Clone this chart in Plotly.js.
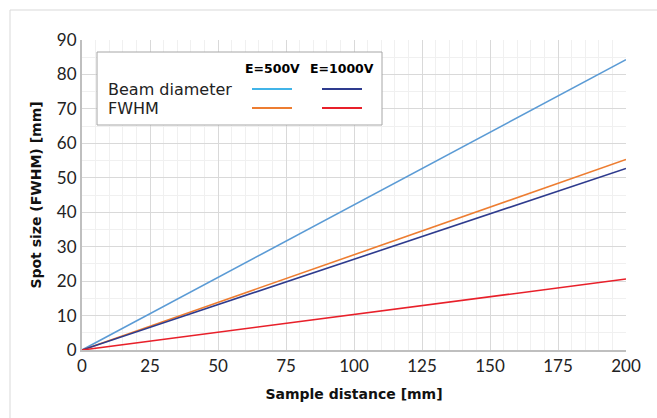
<!DOCTYPE html>
<html>
<head>
<meta charset="utf-8">
<script src="https://cdn.plot.ly/plotly-3.0.1.min.js"></script>
<style>html,body{margin:0;padding:0;background:#fff;}#chart{width:657px;height:418px;}</style>
</head>
<body>
<div id="chart"></div>
<script>
const distance = [0, 200];
const beam500 = [0, 84.3];
const fwhm500 = [0, 55.3];
const beam1000 = [0, 52.7];
const fwhm1000 = [0, 20.6];
const xTicks = [0, 25, 50, 75, 100, 125, 150, 175, 200];
const yTicks = [0, 10, 20, 30, 40, 50, 60, 70, 80, 90];
const colHeaders = ['E=500V', 'E=1000V'];
const rowLabels = ['Beam diameter', 'FWHM'];

const colors = {beam500: '#5B9BD5', fwhm500: '#ED7D31', beam1000: '#2E3B8E', fwhm1000: '#E8202A'};
const legendColors = [['#41B4E8', '#2E3B8E'], ['#ED7D31', '#E8202A']];
const FONT = 'Lato, "Open Sans", sans-serif';
const BOLD = '"DejaVu Sans", Lato, sans-serif';

const traces = [
  {x: distance, y: beam500, name: 'Beam diameter E=500V', color: colors.beam500},
  {x: distance, y: fwhm500, name: 'FWHM E=500V', color: colors.fwhm500},
  {x: distance, y: beam1000, name: 'Beam diameter E=1000V', color: colors.beam1000},
  {x: distance, y: fwhm1000, name: 'FWHM E=1000V', color: colors.fwhm1000}
].map(t => ({x: t.x, y: t.y, name: t.name, type: 'scatter', mode: 'lines',
  line: {color: t.color, width: 1.6}, hoverinfo: 'x+y+name'}));

// legend table (drawn in paper coords)
const px = v => (v - 82) / 544;   // pixel -> paper x
const py = v => (350 - v) / 310;  // pixel -> paper y
const shapes = [
  {type: 'rect', xref: 'paper', yref: 'paper', x0: px(10), x1: px(700), y0: py(500), y1: py(10),
   line: {color: '#d9d9d9', width: 1}, fillcolor: 'rgba(0,0,0,0)', layer: 'below'},
  {type: 'rect', xref: 'paper', yref: 'paper', x0: px(97), x1: px(382), y0: py(125), y1: py(52),
   line: {color: '#a6a6a6', width: 1}, fillcolor: '#ffffff'}
];
const annotations = [];
const colX = [272, 342];
const rowY = [89, 108];
colHeaders.forEach((h, i) => annotations.push({xref: 'paper', yref: 'paper', x: px(colX[i]), y: py(68),
  text: '<b>' + h + '</b>', showarrow: false, xanchor: 'center', yanchor: 'middle',
  font: {family: BOLD, size: 12.5, color: '#000'}}));
rowLabels.forEach((r, j) => {
  annotations.push({xref: 'paper', yref: 'paper', x: px(106), y: py(rowY[j]), text: r, showarrow: false,
    xanchor: 'left', yanchor: 'middle', font: {family: '"DejaVu Sans", sans-serif', size: 16, color: '#222'}});
  colX.forEach((cx, i) => shapes.push({type: 'line', xref: 'paper', yref: 'paper',
    x0: px(cx - 20), x1: px(cx + 20), y0: py(rowY[j]), y1: py(rowY[j]),
    line: {color: legendColors[j][i], width: 1.8}}));
});

const layout = {
  width: 657, height: 418,
  margin: {l: 82, r: 31, t: 40, b: 68},
  paper_bgcolor: '#ffffff', plot_bgcolor: '#ffffff',
  showlegend: false,
  font: {family: FONT, color: '#222'},
  xaxis: {
    range: [0, 200], tickvals: xTicks, ticktext: xTicks.map(String),
    showline: true, linecolor: '#bfbfbf', linewidth: 2,
    showgrid: true, gridcolor: '#d9d9d9', gridwidth: 1,
    minor: {dtick: 5, showgrid: true, gridcolor: '#f0f0f0', gridwidth: 1},
    zeroline: false, ticks: '', ticklen: 0,
    tickfont: {family: FONT, size: 17, color: '#222'},
    title: {text: '<b>Sample distance [mm]</b>', font: {family: BOLD, size: 14, color: '#111'}, standoff: 14}
  },
  yaxis: {
    range: [0, 90], tickvals: yTicks, ticktext: yTicks.map(String),
    showline: true, linecolor: '#bfbfbf', linewidth: 2,
    showgrid: true, gridcolor: '#d9d9d9', gridwidth: 1,
    minor: {dtick: 5, showgrid: true, gridcolor: '#f0f0f0', gridwidth: 1},
    zeroline: false, ticks: '', ticklen: 0,
    tickfont: {family: FONT, size: 17, color: '#222'},
    title: {text: '<b>Spot size (FWHM) [mm]</b>', font: {family: BOLD, size: 14, color: '#111'}, standoff: 12}
  },
  shapes: shapes,
  annotations: annotations
};

Plotly.newPlot('chart', traces, layout, {displayModeBar: false, staticPlot: true});
</script>
</body>
</html>
